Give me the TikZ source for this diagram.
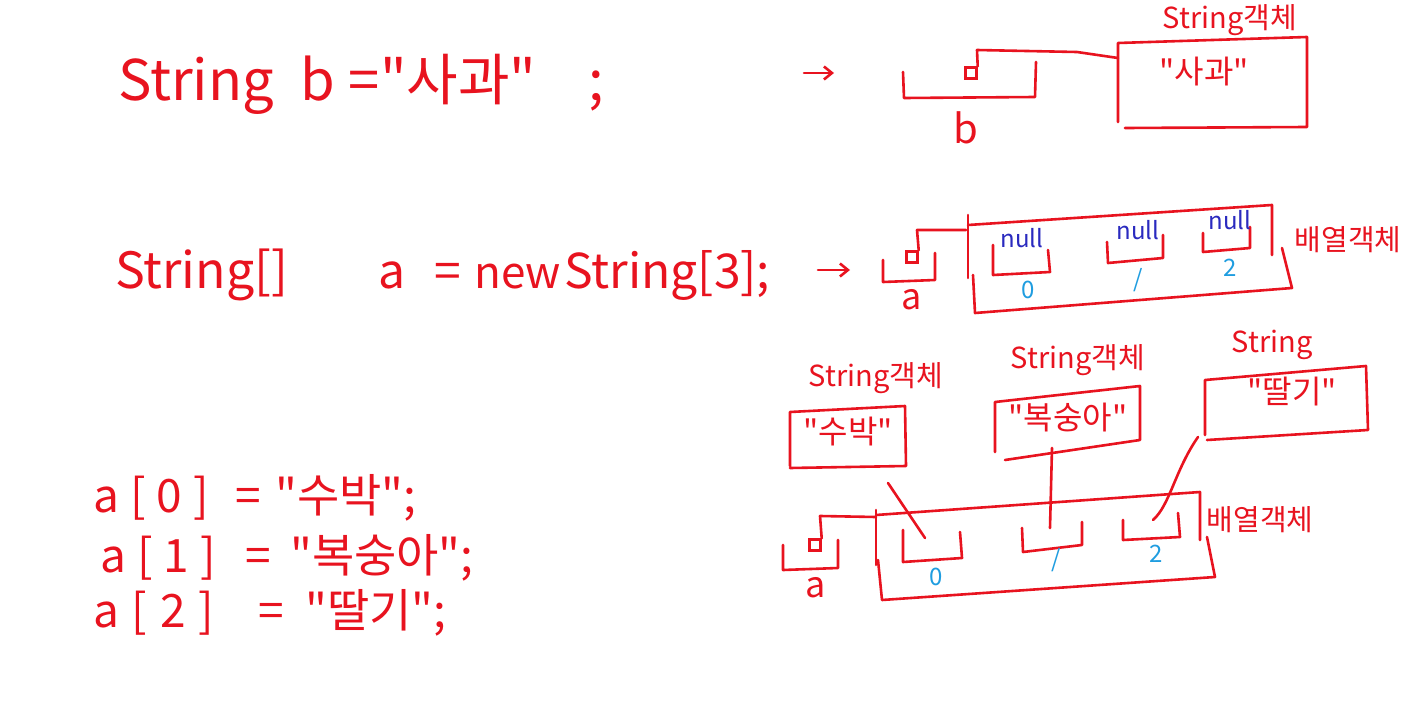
\documentclass[tikz,border=0pt]{standalone}
\usepackage{fontspec}
\usetikzlibrary{arrows.meta}
\setmainfont{Noto Sans CJK KR}[Ligatures=TeXOff]
\definecolor{inkred}{HTML}{E8131F}
\definecolor{inkblue}{HTML}{2A2ABF}
\definecolor{inkcyan}{HTML}{1F9DE0}
\begin{document}
\begin{tikzpicture}[x=1pt,y=-1pt,
  ink/.style={draw=inkred, line width=2.6pt, line cap=round, line join=round},
  code/.style={text=inkred, inner sep=0pt, anchor=base west},
  big/.style={code, font=\fontsize{56}{60}\selectfont},
  mid/.style={code, font=\fontsize{48}{52}\selectfont},
  low/.style={code, font=\fontsize{46}{50}\selectfont},
  lbl/.style={text=inkred, inner sep=0pt, font=\fontsize{29}{31}\selectfont},
  val/.style={text=inkred, inner sep=0pt, font=\fontsize{32}{34}\selectfont},
  nul/.style={text=inkblue, inner sep=0pt, font=\fontsize{24}{26}\selectfont},
  idx/.style={text=inkcyan, inner sep=0pt, font=\fontsize{24}{26}\selectfont},
  ptr/.style={draw=inkred, line width=2.4pt, minimum size=11pt, inner sep=0pt},
  arr/.style={ink, -{Straight Barb[length=8pt,width=13pt]}}]
\useasboundingbox[fill=white] (0,0) rectangle (1422,720);

% ---------- line 1 ----------
\node[big] (l1a) at (118,100) {String};
\node[big] (l1b) at (300,100) {b};
\node[big] (l1c) at (348,100) {=};
\node[big] (l1d) at (380,100) {"사과"};
\node[big] (l1e) at (588,100) {;};
\coordinate (a1s) at (804,73);
\coordinate (a1e) at (834,73);
\draw[arr] (a1s) -- (a1e);

% variable b
\draw[ink] (903,72) -- (904,98) -- (1035,97) -- (1036,62);
\node[ptr] (bptr) at (971,73) {};
\node[code, anchor=center, font=\fontsize{40}{44}\selectfont] (bname) at (966,128) {b};
% String object 1
\draw[ink] (1118,122) -- (1118,43) -- (1307,37) -- (1307,127) -- (1125,128);
\coordinate (obj1w) at (1118,58);
\node[val] (obj1t) at (1204,72) {"사과"};
\node[lbl] (obj1l) at (1230,20) {String객체};
\draw[ink] (bptr.north east) -- (977,50) -- (1077,52) -- (obj1w);

% ---------- line 2 ----------
\node[code, font=\fontsize{50}{54}\selectfont] (l2a) at (115,288) {String[]};
\node[mid] (l2b) at (378,288) {a};
\node[mid] (l2c) at (434,288) {=};
\node[code, font=\fontsize{44}{48}\selectfont] (l2d) at (474,288) {new};
\node[mid] (l2e) at (564,288) {String[3];};
\coordinate (a2s) at (818,270);
\coordinate (a2e) at (850,270);
\draw[arr] (a2s) -- (a2e);

% variable a (top)
\draw[ink] (883,260) -- (883,282) -- (935,280) -- (935,253);
\node[ptr] (aptr1) at (912,257) {};
\node[code, anchor=center, font=\fontsize{36}{40}\selectfont] (aname1) at (912,300) {a};
\coordinate (arr1w) at (966,230);
\draw[ink] (aptr1.north east) -- (917,230) -- (arr1w);
% array object (top)
\draw[ink] (968,278) -- (968,215);
\draw[ink] (968,225) -- (1272,205) -- (1272,255);
\draw[ink] (1282,248) -- (1292,288) -- (975,313) -- (973,275);
% cells
\draw[ink] (993,245) -- (993,275) -- (1050,272) -- (1048,250);
\draw[ink] (1107,242) -- (1108,263) -- (1163,258) -- (1163,235);
\draw[ink] (1203,233) -- (1203,252) -- (1250,248) -- (1250,227);
\node[nul] (n0) at (1022,238) {null};
\node[nul] (n1) at (1138,230) {null};
\node[nul] (n2) at (1230,220) {null};
\node[idx] (i0) at (1028,290) {0};
\node[idx] (i1) at (1138,280) {/};
\node[idx] (i2) at (1230,268) {2};
\node[lbl] (arrl1) at (1348,240) {배열객체};

% ---------- bottom code ----------
\node[low, font=\fontsize{46}{50}\selectfont\addfontfeature{LetterSpace=24}] (l3a) at (93,512) {a[0]};
\node[low] (l3b) at (235,512) {=};
\node[low] (l3c) at (275,512) {"수박";};
\node[low, font=\fontsize{46}{50}\selectfont\addfontfeature{LetterSpace=24}] (l4a) at (100,572) {a[1]};
\node[low] (l4b) at (245,572) {=};
\node[low] (l4c) at (290,572) {"복숭아";};
\node[low, font=\fontsize{46}{50}\selectfont\addfontfeature{LetterSpace=28}] (l5a) at (93,627) {a[2]};
\node[low] (l5b) at (258,627) {=};
\node[low] (l5c) at (305,627) {"딸기";};

% ---------- bottom diagram ----------
% String objects
\node[lbl] (s1l) at (876,378) {String객체};
\draw[ink] (790,466) -- (790,412) -- (905,406) -- (906,466) -- (790,468);
\node[val] (s1t) at (848,432) {"수박"};
\coordinate (s1b) at (888,483);

\node[lbl] (s2l) at (1078,360) {String객체};
\draw[ink] (995,452) -- (995,402) -- (1140,386) -- (1140,440) -- (1005,460);
\node[val] (s2t) at (1068,418) {"복숭아"};
\coordinate (s2b) at (1052,448);

\node[lbl] (s3l) at (1272,345) {String};
\draw[ink] (1205,435) -- (1205,380) -- (1366,366) -- (1368,430) -- (1207,440);
\node[val] (s3t) at (1292,392) {"딸기"};
\coordinate (s3b) at (1198,437);

% variable a (bottom)
\draw[ink] (783,545) -- (783,570) -- (838,568) -- (838,540);
\node[ptr] (aptr2) at (815,545) {};
\node[code, anchor=center, font=\fontsize{36}{40}\selectfont] (aname2) at (816,588) {a};
\coordinate (arr2w) at (876,517);
\draw[ink] (aptr2.north east) -- (820,516) -- (arr2w);

% array object (bottom)
\draw[ink] (876,565) -- (876,510);
\draw[ink] (876,515) -- (1200,492) -- (1200,540);
\draw[ink] (1207,537) -- (1215,577) -- (882,600) -- (878,560);
% cells
\draw[ink] (903,530) -- (903,562) -- (962,558) -- (960,532);
\draw[ink] (1022,528) -- (1023,552) -- (1082,545) -- (1082,522);
\draw[ink] (1123,520) -- (1123,540) -- (1180,537) -- (1178,513);
\coordinate (c0) at (925,538);
\coordinate (c1) at (1050,528);
\coordinate (c2) at (1153,520);
\node[idx] (j0) at (936,577) {0};
\node[idx] (j1) at (1056,560) {/};
\node[idx] (j2) at (1156,554) {2};
\node[lbl] (arrl2) at (1260,520) {배열객체};

% references
\draw[ink] (s1b) -- (c0);
\draw[ink] (s2b) -- (c1);
\draw[ink] (s3b) .. controls (1175,470) and (1170,505) .. (c2);
\end{tikzpicture}
\end{document}
